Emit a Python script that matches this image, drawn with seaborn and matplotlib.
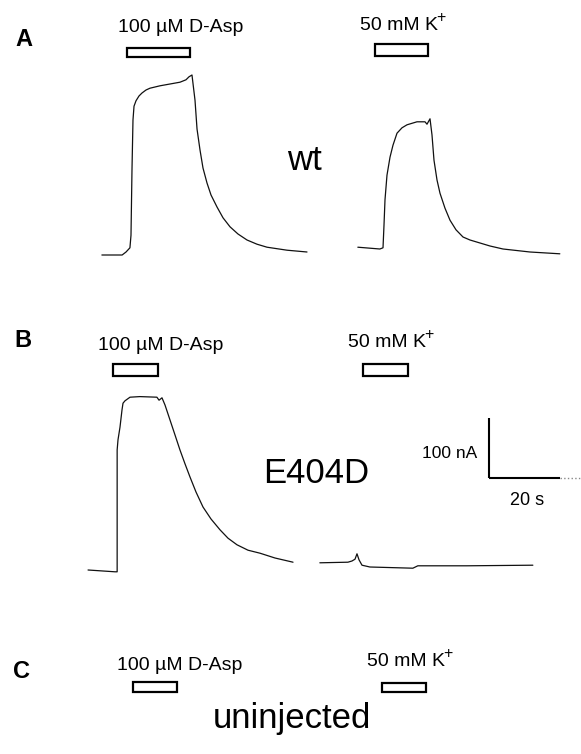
import numpy as np
import pandas as pd
import matplotlib
matplotlib.use("Agg")
import matplotlib.pyplot as plt
from matplotlib.patches import Rectangle
import seaborn as sns

# ---------------- data (time in s, current in nA) ----------------
a_dasp_t = [28.7, 34.4, 35.5, 36.6, 36.9, 37.18, 37.46, 37.75, 38.31, 39.15, 40.0, 41.13,
            42.25, 43.66, 45.07, 47.89, 50.70, 52.39, 53.24, 54.08, 54.93, 55.5, 56.34,
            57.18, 58.31, 59.44, 61.13, 62.82, 64.79, 67.04, 69.58, 72.39, 75.21, 80.85, 86.48]
a_dasp_i = [0, 0, 5, 12, 33, 142, 225, 248, 257, 265, 270, 275,
            278, 280, 282, 285, 288, 292, 297, 300, 258, 210, 175,
            145, 120, 100, 80, 62, 47, 35, 25, 18, 13, 8, 5]

a_k_t = [100.8, 107.0, 107.89, 108.17, 108.45, 109.01, 109.86, 110.7, 111.83, 113.24,
         114.65, 117.46, 119.72, 120.28, 121.13, 121.69, 122.25, 123.1, 123.94, 125.35,
         126.76, 128.45, 130.42, 132.39, 135.21, 138.03, 141.69, 149.3, 157.7]
a_k_i = [13, 10, 12, 50, 92, 133, 163, 183, 203, 212,
         217, 222, 222, 218, 227, 200, 158, 125, 103, 78,
         58, 42, 30, 25, 20, 15, 10, 5, 2]

b_dasp_t = [24.8, 32.4, 33.0, 33.0, 33.24, 33.8, 34.37, 34.65, 35.21, 36.62, 39.4, 44.2,
            44.8, 45.63, 46.48, 47.89, 49.3, 50.7, 52.11, 53.52, 55.21, 57.18, 59.44,
            61.97, 64.23, 66.76, 69.86, 73.24, 77.46, 82.54]
b_dasp_i = [0, -3, -3, 200, 217, 238, 267, 278, 282, 288, 289, 288,
            283, 287, 275, 250, 225, 200, 177, 155, 130, 105, 85,
            67, 53, 42, 33, 28, 20, 13]

b_k_t = [90.1, 98.0, 99.15, 100.0, 100.56, 101.13, 101.97, 104.2, 116.3, 117.7, 120.3,
         131.5, 150.1]
b_k_i = [12, 13, 15, 18, 27, 17, 8, 5, 3, 7, 7, 7, 8]

# application windows (start, end) in s
a_dasp_app = (35.8, 53.5)
a_k_app = (105.6, 120.6)
b_dasp_app = (31.8, 44.5)
b_k_app = (102.3, 114.9)
c_dasp_app = (37.5, 49.9)
c_k_app = (107.6, 120.0)

dasp_label = "100 \u00b5M D-Asp"
k_label = "50 mM K"
k_sup = "+"
panel_labels = ["A", "B", "C"]
condition_labels = ["wt", "E404D", "uninjected"]
scale_t, scale_i = 20, 100
scale_t_label, scale_i_label = "20 s", "100 nA"

# ---------------- layout ----------------
W, H = 581, 754
PX_S = 71 / 20.0     # pixels per second
PX_NA = 60 / 100.0   # pixels per nA

sns.set_theme(style="white")
plt.rcParams["font.family"] = ["Liberation Sans", "DejaVu Sans"]

fig = plt.figure(figsize=(W / 100, H / 100), dpi=100)
fig.patch.set_facecolor("white")


def make_ax(top_px, bot_px, base_px):
    ax = fig.add_axes([0, 1 - bot_px / H, 1, (bot_px - top_px) / H])
    ax.set_xlim(0, W / PX_S)
    ax.set_ylim((base_px - bot_px) / PX_NA, (base_px - top_px) / PX_NA)
    ax.axis("off")
    ax.patch.set_alpha(0)
    return ax


bands = {"A": (0, 300, 255), "B": (300, 600, 570), "C": (600, 754, 760)}
axA = make_ax(*bands["A"])
axB = make_ax(*bands["B"])
axC = make_ax(*bands["C"])


def trace(ax, t, i):
    df = pd.DataFrame({"t": t, "i": i})
    sns.lineplot(data=df, x="t", y="i", ax=ax, color="#111111", lw=0.9,
                 estimator=None, sort=False)
    ax.set_xlabel("")
    ax.set_ylabel("")


trace(axA, a_dasp_t, a_dasp_i)
trace(axA, a_k_t, a_k_i)
trace(axB, b_dasp_t, b_dasp_i)
trace(axB, b_k_t, b_k_i)


def bar(ax, app, top_px, bot_px, band):
    base = bands[band][2]
    y0 = (base - (bot_px - 1)) / PX_NA
    y1 = (base - (top_px + 1)) / PX_NA
    ax.add_patch(Rectangle((app[0], y0), app[1] - app[0], y1 - y0,
                           facecolor="white", edgecolor="black", lw=1.6,
                           clip_on=False))


bar(axA, a_dasp_app, 47, 58, "A")
bar(axA, a_k_app, 43, 57, "A")
bar(axB, b_dasp_app, 363, 377, "B")
bar(axB, b_k_app, 363, 377, "B")
bar(axC, c_dasp_app, 681, 693, "C")
bar(axC, c_k_app, 682, 693, "C")

# scale bar in panel B
sx = 489 / PX_S
sy = (570 - 478) / PX_NA
axB.plot([sx, sx], [sy, sy + scale_i], color="black", lw=1.5, solid_capstyle="butt")
axB.plot([sx, sx + scale_t], [sy, sy], color="black", lw=1.5, solid_capstyle="butt")
axB.plot([sx + scale_t, sx + scale_t + 5.5], [sy, sy], color="#888888", lw=1.0, ls=":")


def txt(x, y, s, size, ha="left", weight="normal"):
    return fig.text(x / W, 1 - y / H, s, fontsize=size, ha=ha, va="baseline",
                    color="black", fontweight=weight)


def ktxt(x, y):
    txt(x, y, k_label, 14)
    txt(x + 76.5, y - 8, k_sup, 11.5)


# panel letters
txt(15, 46, panel_labels[0], 17, weight="bold")
txt(14, 347, panel_labels[1], 17, weight="bold")
txt(13, 678, panel_labels[2], 17, weight="bold")

# solution labels
txt(118, 32, dasp_label, 14)
ktxt(360, 30)
txt(98, 350, dasp_label, 14)
ktxt(348, 347)
txt(117, 670, dasp_label, 14)
ktxt(367, 666)

# condition labels
txt(287, 170, condition_labels[0], 25)
txt(263, 483, condition_labels[1], 25)
txt(213, 728, condition_labels[2], 25)

# scale labels
txt(477, 458, scale_i_label, 12.5, ha="right")
txt(510, 505, scale_t_label, 13)

fig.savefig("out.png", dpi=100, facecolor="white")
